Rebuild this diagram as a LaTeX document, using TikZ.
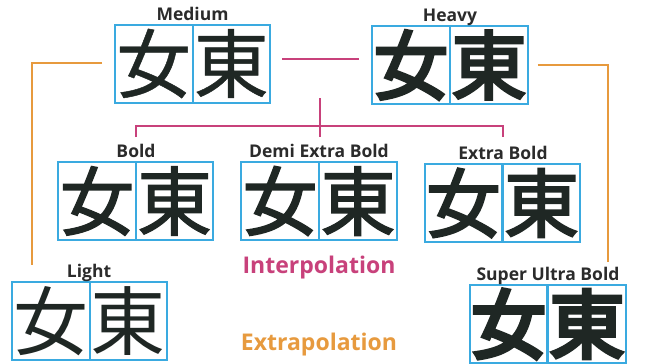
\documentclass[tikz,border=0pt]{standalone}
\usepackage{fontspec}
\setmainfont{Open Sans}
\newfontfamily\cjkLight{Noto Sans CJK JP}
\newfontfamily\cjkMed[FakeBold=0.6]{Noto Sans CJK JP}
\newfontfamily\cjkBold[FakeBold=1.5]{Noto Sans CJK JP}
\newfontfamily\cjkDemi[FakeBold=2.1]{Noto Sans CJK JP}
\newfontfamily\cjkExtra[FakeBold=2.7]{Noto Sans CJK JP}
\newfontfamily\cjkHeavy[FakeBold=4.0]{Noto Sans CJK JP}
\newfontfamily\cjkSub[FakeBold=5.4]{Noto Sans CJK JP}
\usetikzlibrary{calc}
\definecolor{boxcyan}{HTML}{3AAAE0}
\definecolor{interp}{HTML}{C8417B}
\definecolor{extrap}{HTML}{E79A3E}
\definecolor{ink}{HTML}{1F2724}
\definecolor{lbl}{HTML}{2B2B2B}
\begin{document}
\begin{tikzpicture}[x=1pt,y=-1pt,
  cell/.style={draw=boxcyan, line width=2pt, minimum width=77.5pt, minimum height=78pt,
    inner sep=0pt, text=ink, font=\fontsize{75}{75}\selectfont},
  wlabel/.style={anchor=base, inner sep=0pt, text=lbl, font=\fontsize{17.5}{17.5}\selectfont\bfseries},
  interline/.style={draw=interp, line width=2.4pt},
  extraline/.style={draw=extrap, line width=2.4pt},
  bigword/.style={anchor=base, inner sep=0pt, font=\fontsize{23}{23}\selectfont\bfseries}]
\useasboundingbox[fill=white] (0,0) rectangle (646,364);

% Medium
\node[cell] (medL) at (153.75,63.5) {\cjkMed 女};
\node[cell] (medR) at (231.25,63.5) {\cjkMed 東};
\node[wlabel] (medT) at (192.5,20.5) {Medium};
% Heavy
\node[cell] (hvL) at (411,65) {\cjkHeavy 女};
\node[cell] (hvR) at (489,65) {\cjkHeavy 東};
\node[wlabel] (hvT) at (450,21.5) {Heavy};
% Bold
\node[cell] (bdL) at (97,201) {\cjkBold 女};
\node[cell] (bdR) at (174.5,201) {\cjkBold 東};
\node[wlabel] (bdT) at (136,157.5) {Bold};
% Demi Extra Bold
\node[cell] (deL) at (280,201) {\cjkDemi 女};
\node[cell] (deR) at (358,201) {\cjkDemi 東};
\node[wlabel] (deT) at (319,157.5) {Demi Extra Bold};
% Extra Bold
\node[cell] (ebL) at (463.5,203) {\cjkExtra 女};
\node[cell] (ebR) at (541.5,203) {\cjkExtra 東};
\node[wlabel] (ebT) at (503,159) {Extra Bold};
% Light
\node[cell] (ltL) at (50.75,321) {\cjkLight 女};
\node[cell] (ltR) at (128.25,321) {\cjkLight 東};
\node[wlabel] (ltT) at (89,277.5) {Light};
% Super Ultra Bold
\node[cell] (suL) at (508.5,324) {\cjkSub 女};
\node[cell] (suR) at (587,324) {\cjkSub 東};
\node[wlabel] (suT) at (548,280.5) {Super Ultra Bold};

% words
\node[bigword, text=interp] (interpT) at (319,273) {Interpolation};
\node[bigword, text=extrap] (extrapT) at (319,350.5) {Extrapolation};

% interpolation connectors
\coordinate (mA) at ($(medR.east)+(11,-4.5)$);
\coordinate (mB) at ($(hvL.west)+(-12,-6)$);
\draw[interline] (mA) -- (mB);
\coordinate (vTop) at (320,98);
\coordinate (vBot) at (320,137);
\draw[interline] (vTop) -- (vBot);
\coordinate (dB) at (136,137);
\coordinate (dE) at (503,137);
\draw[interline] (dB) |- (320,126) -| (dE);

% extrapolation connectors
\coordinate (oA) at ($(medL.west)+(-12,-0.5)$);
\coordinate (oLend) at (32,265);
\draw[extraline] (oA) -| (oLend);
\coordinate (oB) at ($(hvR.east)+(9,0)$);
\coordinate (oRend) at (608,262);
\draw[extraline] (oB) -| (oRend);
\end{tikzpicture}
\end{document}
